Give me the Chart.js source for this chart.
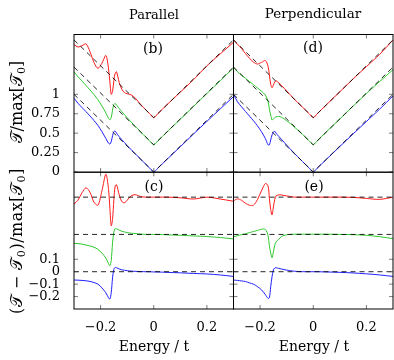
<!DOCTYPE html>
<html><head><meta charset="utf-8">
<script src="https://cdn.jsdelivr.net/npm/chart.js@4.4.0/dist/chart.umd.min.js"></script>
<style>
body{margin:0;background:#fff;width:394px;height:360px;position:relative;overflow:hidden;font-family:"DejaVu Serif",serif;color:#000}
canvas{position:absolute}
.lbl{position:absolute;white-space:nowrap;transform:translate(-50%,-50%);font-size:13px;line-height:1}
.rot{transform:translate(-50%,-50%) rotate(-90deg)}
sub{font-size:70%;vertical-align:-0.25em}
</style></head><body>
<canvas id="pc" width="234" height="188" style="left:0;top:172px"></canvas>
<canvas id="pe" width="161" height="188" style="left:233px;top:172px"></canvas>
<canvas id="pb" width="234" height="182" style="left:0;top:0"></canvas>
<canvas id="pd" width="161" height="182" style="left:233px;top:0"></canvas>

<div class="lbl" style="left:154px;top:14px">Parallel</div>
<div class="lbl" style="left:313px;top:14px;font-size:13.5px">Perpendicular</div>
<div class="lbl" style="left:153px;top:48px;font-size:14px">(b)</div>
<div class="lbl" style="left:313px;top:47px;font-size:14px">(d)</div>
<div class="lbl" style="left:154px;top:186px;font-size:14px">(c)</div>
<div class="lbl" style="left:314px;top:186px;font-size:14px">(e)</div>
<div class="lbl" style="left:154px;top:346px;font-size:14px">Energy / t</div>
<div class="lbl" style="left:314px;top:346px;font-size:14px">Energy / t</div>
<div class="lbl rot" style="left:18px;top:102px;font-size:16px">𝒯/max[𝒯<sub>0</sub>]</div>
<div class="lbl rot" style="left:18px;top:241px;font-size:16px;letter-spacing:0.5px">(𝒯 − 𝒯<sub>0</sub>)/max[𝒯<sub>0</sub>]</div>

<script>
// energy grid shared by all curves
const energy = [-0.30,-0.285,-0.27,-0.255,-0.24,-0.225,-0.21,-0.195,-0.18,-0.17,-0.165,-0.16,-0.155,-0.15,-0.145,-0.14,-0.13,-0.12,-0.11,-0.10,-0.085,-0.07,-0.05,-0.03,-0.015,0,0.015,0.05,0.1,0.15,0.2,0.25,0.3];

// (b) parallel, T/max[T0]
const parBlueTop  = [0.95,0.885,0.83,0.777,0.722,0.663,0.60,0.52,0.43,0.37,0.36,0.39,0.467,0.52,0.525,0.50,0.455,0.415,0.379,0.341,0.288,0.236,0.168,0.10,0.05,0.0,0.048,0.163,0.326,0.49,0.652,0.812,0.97];
const parGreenTop = [1.29,1.226,1.172,1.115,1.057,0.997,0.93,0.85,0.76,0.69,0.67,0.70,0.797,0.87,0.881,0.862,0.818,0.775,0.737,0.698,0.643,0.59,0.52,0.45,0.40,0.35,0.40,0.515,0.68,0.845,1.01,1.175,1.34];
const parRedTop   = [1.64,1.61,1.625,1.65,1.55,1.41,1.335,1.40,1.50,1.327,1.16,1.0,1.037,1.18,1.273,1.29,1.153,1.065,1.022,1.008,0.993,0.953,0.872,0.80,0.75,0.70,0.75,0.867,1.028,1.19,1.367,1.52,1.67];
// (d) perpendicular, T/max[T0]
const perBlueTop  = [1.0,0.905,0.84,0.78,0.72,0.66,0.595,0.52,0.43,0.35,0.35,0.413,0.477,0.514,0.525,0.50,0.46,0.422,0.384,0.346,0.291,0.237,0.168,0.10,0.05,0,0.05,0.165,0.328,0.49,0.65,0.81,0.98];
const perGreenTop = [1.35,1.29,1.248,1.206,1.165,1.123,1.082,1.042,0.99,0.907,0.81,0.733,0.67,0.685,0.70,0.71,0.715,0.705,0.685,0.66,0.62,0.575,0.515,0.452,0.402,0.352,0.402,0.519,0.683,0.848,1.01,1.165,1.316];
const perRedTop   = [1.70,1.645,1.59,1.525,1.465,1.415,1.39,1.41,1.435,1.36,1.25,1.13,1.085,1.12,1.16,1.175,1.15,1.115,1.08,1.043,0.988,0.933,0.867,0.80,0.75,0.70,0.75,0.867,1.033,1.198,1.357,1.515,1.70];

// (c) parallel, (T-T0)/max[T0], shifted
const parRedDiff   = [0.545,0.575,0.635,0.675,0.64,0.56,0.535,0.65,0.785,0.66,0.51,0.37,0.42,0.58,0.69,0.70,0.62,0.565,0.555,0.575,0.61,0.62,0.605,0.60,0.60,0.60,0.60,0.60,0.595,0.585,0.60,0.585,0.567];
const parGreenDiff = [0.228,0.226,0.222,0.215,0.207,0.197,0.18,0.15,0.11,0.065,0.048,0.09,0.23,0.32,0.348,0.345,0.335,0.325,0.32,0.315,0.31,0.307,0.303,0.30,0.30,0.30,0.30,0.297,0.293,0.288,0.283,0.275,0.264];
const parBlueDiff  = [-0.067,-0.068,-0.07,-0.073,-0.078,-0.087,-0.10,-0.13,-0.17,-0.21,-0.22,-0.17,-0.05,0.02,0.035,0.032,0.022,0.015,0.012,0.008,0.005,0.003,0.001,0,0,-0.002,-0.002,-0.005,-0.009,-0.014,-0.018,-0.026,-0.038];
// (e) perpendicular
const perRedDiff   = [0.57,0.586,0.575,0.551,0.535,0.535,0.58,0.65,0.71,0.69,0.59,0.50,0.457,0.52,0.58,0.61,0.618,0.618,0.613,0.61,0.605,0.60,0.60,0.60,0.60,0.60,0.60,0.60,0.60,0.598,0.59,0.582,0.60];
const perGreenDiff = [0.282,0.29,0.298,0.306,0.315,0.323,0.332,0.342,0.34,0.29,0.21,0.15,0.113,0.16,0.21,0.24,0.26,0.283,0.292,0.297,0.30,0.302,0.302,0.302,0.302,0.302,0.302,0.302,0.30,0.298,0.293,0.282,0.266];
const perBlueDiff  = [-0.067,-0.07,-0.074,-0.079,-0.09,-0.10,-0.12,-0.145,-0.185,-0.215,-0.21,-0.12,-0.04,0.014,0.03,0.032,0.027,0.022,0.017,0.013,0.008,0.004,0.001,0,0,0,0,-0.002,-0.005,-0.01,-0.017,-0.026,-0.038];

// dashed references
const vEnergy = [-0.3, 0, 0.3];
const t0Blue  = [1.0, 0, 1.0];
const t0Green = [1.35, 0.35, 1.35];
const t0Red   = [1.7, 0.7, 1.7];
const flatEnergy = [-0.3, 0.3];
const base0 = [0, 0], base1 = [0.3, 0.3], base2 = [0.6, 0.6];

const xTicks = [-0.2, 0, 0.2];
const yTicksTop = [0, 0.25, 0.5, 0.75, 1];
const yTicksBottom = [-0.2, -0.1, 0, 0.1];

const RED='#ff1a1a', GREEN='#2ec82e', BLUE='#2020ff';
const tickFont = {family:'DejaVu Serif', size:13};

const pts = (xs, ys) => xs.map((x,i)=>({x, y:ys[i]}));
const dash = d => ({data:d, borderColor:'rgba(0,0,0,0.85)', borderDash:[5,4], borderWidth:1, tension:0});
const curve = (d,c) => ({data:d, borderColor:c, borderWidth:1});
const fmt = v => v===0 ? '0' : (v<0?'−':'') + String(Math.abs(+v.toFixed(2)));
const noPad = s => { s.paddingLeft = s.paddingRight = s.paddingTop = s.paddingBottom = 0; };

// frame and inward tick marks on all four sides
const frame = {
  id:'frame',
  afterDatasetsDraw(chart){
    const {ctx, chartArea:a, scales:{x,y}} = chart;
    ctx.save();
    ctx.strokeStyle='#444'; ctx.lineWidth=0.7;
    ctx.beginPath();
    x.ticks.forEach(t=>{
      const p = x.getPixelForValue(t.value);
      ctx.moveTo(p,a.bottom); ctx.lineTo(p,a.bottom-4);
      ctx.moveTo(p,a.top); ctx.lineTo(p,a.top+4);
    });
    y.ticks.forEach(t=>{
      const p = y.getPixelForValue(t.value);
      ctx.moveTo(a.left,p); ctx.lineTo(a.left+4,p);
      ctx.moveTo(a.right,p); ctx.lineTo(a.right-4,p);
    });
    ctx.stroke();
    ctx.strokeStyle='#000'; ctx.lineWidth=1;
    ctx.strokeRect(a.left,a.top,a.right-a.left,a.bottom-a.top);
    ctx.restore();
  }
};

function panel(id, datasets, o){
  new Chart(document.getElementById(id), {
    type:'line',
    data:{datasets},
    options:{
      responsive:false, animation:false, devicePixelRatio:1,
      layout:{autoPadding:false, padding:o.pad},
      plugins:{legend:{display:false}, tooltip:{enabled:false}},
      elements:{point:{radius:0}, line:{tension:0.3}},
      scales:{
        x:{type:'linear', min:-0.3, max:0.3,
           afterBuildTicks:s=>{ s.ticks = xTicks.map(v=>({value:v})); },
           afterFit:s=>{ s.height = o.xh; noPad(s); },
           grid:{display:false}, border:{display:false},
           ticks:{display:o.showX, padding:3, callback:fmt, font:tickFont, color:'#000', maxRotation:0}},
        y:{type:'linear', min:o.yMin, max:o.yMax,
           afterBuildTicks:s=>{ s.ticks = o.yTicks.map(v=>({value:v})); },
           afterFit:s=>{ s.width = o.showY ? 74 : 0; noPad(s); },
           grid:{display:false}, border:{display:false},
           ticks:{display:o.showY, padding:6, callback:fmt, font:tickFont, color:'#000'}}
      }
    },
    plugins:[frame]
  });
}

const topCfg = {yMin:0, yMax:1.77, yTicks:yTicksTop, showX:false, xh:10};
const botCfg = {yMin:-0.3, yMax:0.8, yTicks:yTicksBottom, showX:true, xh:51};

panel('pb', [
  dash(pts(vEnergy,t0Red)), dash(pts(vEnergy,t0Green)), dash(pts(vEnergy,t0Blue)),
  curve(pts(energy,parRedTop),RED), curve(pts(energy,parGreenTop),GREEN), curve(pts(energy,parBlueTop),BLUE)
], {...topCfg, showY:true, pad:{top:34.5,left:0,right:0.5,bottom:0}});

panel('pd', [
  dash(pts(vEnergy,t0Red)), dash(pts(vEnergy,t0Green)), dash(pts(vEnergy,t0Blue)),
  curve(pts(energy,perRedTop),RED), curve(pts(energy,perGreenTop),GREEN), curve(pts(energy,perBlueTop),BLUE)
], {...topCfg, showY:false, pad:{top:34.5,left:0.5,right:1,bottom:0}});

panel('pc', [
  dash(pts(flatEnergy,base2)), dash(pts(flatEnergy,base1)), dash(pts(flatEnergy,base0)),
  curve(pts(energy,parRedDiff),RED), curve(pts(energy,parGreenDiff),GREEN), curve(pts(energy,parBlueDiff),BLUE)
], {...botCfg, showY:true, pad:{top:0.3,left:0,right:0.5,bottom:0}});

panel('pe', [
  dash(pts(flatEnergy,base2)), dash(pts(flatEnergy,base1)), dash(pts(flatEnergy,base0)),
  curve(pts(energy,perRedDiff),RED), curve(pts(energy,perGreenDiff),GREEN), curve(pts(energy,perBlueDiff),BLUE)
], {...botCfg, showY:false, pad:{top:0.3,left:0.5,right:1,bottom:0}});
</script>
</body></html>
